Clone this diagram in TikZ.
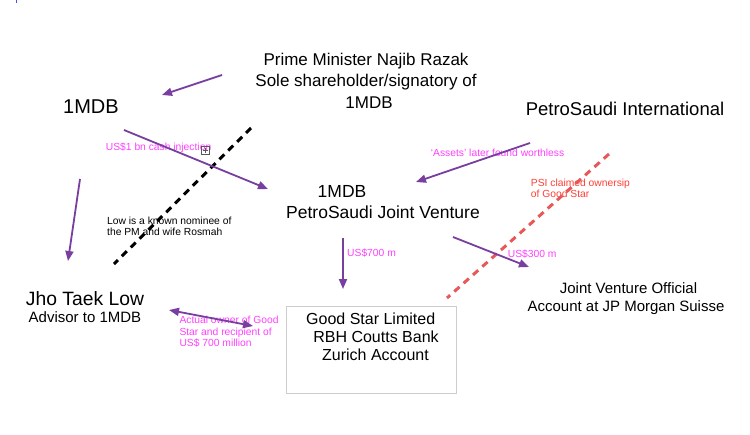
\documentclass[tikz,border=0pt]{standalone}
\usepackage{fontspec}
\setmainfont{Liberation Sans}
\usetikzlibrary{arrows.meta}
\definecolor{flowpurple}{RGB}{120,62,160}
\definecolor{notepink}{RGB}{255,64,255}
\definecolor{notered}{RGB}{255,62,52}
\definecolor{dashred}{RGB}{232,88,88}
\definecolor{boxgray}{RGB}{205,205,205}
\begin{document}
\begin{tikzpicture}[x=1pt,y=-1pt,
  txt/.style={inner sep=0pt, anchor=base},
  ltxt/.style={inner sep=0pt, anchor=base west},
  fs/.style={font=\fontsize{#1}{#1}\selectfont},
  pink/.style={ltxt, fs=10.3, text=notepink},
  flow/.style={draw=flowpurple, line width=1.8pt, -{Triangle[length=10pt,width=8pt]}},
  flowboth/.style={draw=flowpurple, line width=1.8pt, {Triangle[length=10pt,width=8pt]}-{Triangle[length=10pt,width=8pt]}},
  blackdash/.style={draw=black, line width=3pt, dash pattern=on 7pt off 5.5pt},
  reddash/.style={draw=dashred, line width=3pt, dash pattern=on 7pt off 5.5pt}]
\useasboundingbox (0,0) rectangle (750,434);
\draw[blue!70, line width=0.8pt] (16.5,0) -- (16.5,3);

% Prime Minister
\node[txt, fs=17] (pm1) at (366,65) {Prime Minister Najib Razak};
\node[txt, fs=17] (pm2) at (366,86.5) {Sole shareholder/signatory of};
\node[txt, fs=17] (pm3) at (369,108) {1MDB};

% 1MDB
\node[txt, fs=20] (mdb) at (91,113) {1MDB};

% PetroSaudi International
\node[txt, fs=18.5] (psi) at (625,115) {PetroSaudi International};

% Joint venture
\node[txt, fs=17.5] (jv1) at (342,197) {1MDB};
\node[txt, fs=17.5] (jv2) at (383,218) {PetroSaudi Joint Venture};

% Jho Taek Low
\node[txt, fs=19.3] (jho1) at (85,305) {Jho Taek Low};
\node[txt, fs=15] (jho2) at (85,322.5) {Advisor to 1MDB};

% Good Star box
\node[draw=boxgray, line width=1pt, minimum width=170pt, minimum height=87pt, inner sep=0pt] (gsbox) at (371,349.5) {};
\node[txt, fs=16] (gs1) at (370.7,324.5) {Good Star Limited};
\node[txt, fs=16] (gs2) at (376,342) {RBH Coutts Bank};
\node[txt, fs=16] (gs3) at (375.5,360) {Zurich Account};

% JP Morgan
\node[txt, fs=15] (jpm1) at (628.5,293.5) {Joint Venture Official};
\node[txt, fs=15] (jpm2) at (626,311) {Account at JP Morgan Suisse};

% notes
\node[pink] (n1) at (105.7,150) {US\$1 bn cash injection};
\node[ltxt, fs=10.3] (n2a) at (107,224) {Low is a known nominee of};
\node[ltxt, fs=10.3] (n2b) at (107,235.7) {the PM and wife Rosmah};
\node[pink] (n3) at (430.7,156) {‘Assets’ later found worthless};
\node[ltxt, fs=10.3, text=notered] (n4a) at (530.7,186) {PSI claimed ownersip};
\node[ltxt, fs=10.3, text=notered] (n4b) at (530.7,197.3) {of Good Star};
\node[pink] (n5) at (347,256) {US\$700 m};
\node[pink] (n6) at (507.7,257.7) {US\$300 m};
\node[pink] (n7a) at (179.3,323.5) {Actual owner of Good};
\node[pink] (n7b) at (179.3,335) {Star and recipient of};
\node[pink] (n7c) at (179.3,346.5) {US\$ 700 million};

% small handle box
\draw[gray!70!black, line width=0.6pt] (201,146) rectangle (209,154);
\draw[gray!70!black, line width=0.6pt] (205,147.5) -- (205,152.5) (202.5,150) -- (207.5,150);

% connector end points
\coordinate (pmS) at (222,75);
\coordinate (mdbE) at (162,95);
\coordinate (mdbS) at (124,130);
\coordinate (jvW) at (268,189);
\coordinate (mdbB) at (80,179);
\coordinate (jhoT) at (68,261);
\coordinate (psiS) at (530,143);
\coordinate (jvNE) at (416,182);
\coordinate (jvB) at (343,238);
\coordinate (gsT) at (343,289);
\coordinate (jvSE) at (453,237);
\coordinate (jpmW) at (529,267);
\coordinate (jhoR) at (169,310);
\coordinate (gsL) at (253,326);
\coordinate (bdA) at (251,128);
\coordinate (bdB) at (114,264);
\coordinate (rdA) at (609,154);
\coordinate (rdB) at (447,298);

% dashed separators
\draw[blackdash] (bdA) -- (bdB);
\draw[reddash] (rdA) -- (rdB);

% flows
\draw[flow] (pmS) -- (mdbE);
\draw[flow] (mdbS) -- (jvW);
\draw[flow] (mdbB) -- (jhoT);
\draw[flow] (psiS) -- (jvNE);
\draw[flow] (jvB) -- (gsT);
\draw[flow] (jvSE) -- (jpmW);
\draw[flowboth] (jhoR) -- (gsL);
\end{tikzpicture}
\end{document}
